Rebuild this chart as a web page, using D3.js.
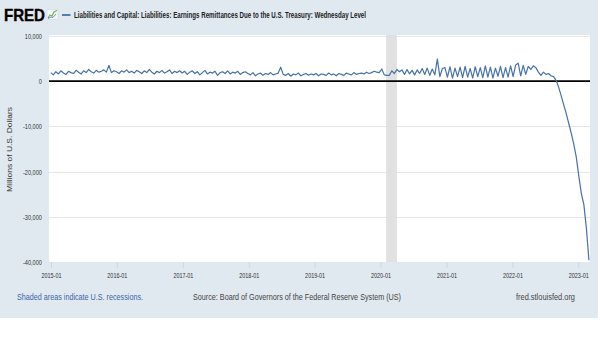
<!DOCTYPE html>
<html><head><meta charset="utf-8">
<script src="https://cdn.jsdelivr.net/npm/d3@7"></script>
<style>html,body{margin:0;padding:0;background:#fff;}svg{display:block;}</style>
</head><body>
<svg id="c" width="600" height="338"></svg>
<script>
// ---- data ----
const seriesTitle = "Liabilities and Capital: Liabilities: Earnings Remittances Due to the U.S. Treasury: Wednesday Level";
const startDate = "2014-12-31";   // first Wednesday observation
const stepDays = 14;              // values sampled every two weeks
const values = [
  // 2015
  1900,1400,2100,1600,2300,1800,1500,2200,1900,1700,2400,2000,1600,2300,1900,2600,2100,1800,2400,2000,2200,2500,2000,3500,1900,2300,
  // 2016
  2100,1700,2300,2000,2500,1900,2200,1800,2400,2100,1700,2300,1900,2600,2000,1600,2200,1900,2400,1800,2100,2500,1700,2200,1900,2300,
  // 2017
  1800,2200,1500,2000,2300,1700,2100,1400,1900,2400,1600,2000,1800,2200,1300,1900,2100,1700,2300,1600,2000,1800,2200,1500,1900,2100,
  // 2018
  1700,1400,1900,1200,1600,1800,1300,1700,1500,1900,1400,1600,1800,3100,1500,1300,1700,1100,1600,1400,1800,1200,1500,1700,1300,1600,
  // 2019
  1400,1700,1200,1600,1500,1300,1800,1400,1600,1200,1700,1500,1300,1800,1600,1400,1900,1500,1700,1800,1600,2000,1700,1900,2200,2000,
  // 2020
  1900,2700,1400,1300,1300,2300,1700,2600,2100,2500,1500,2600,1600,2400,1400,2500,1700,2800,1500,2900,1300,2700,1400,4900,1000,2800,
  // 2021
  3000,900,3200,700,2900,1000,3100,800,3300,900,2800,700,3200,1000,3000,800,3400,900,3100,700,2900,1100,3300,800,3000,900,
  // 2022 - 2023
  3400,1000,3600,4000,1200,3500,1500,3300,2600,3400,3000,2000,1300,2000,1500,1700,1200,1000,
  200,-1300,-3200,-5200,-7100,-9300,-11500,-13900,-16800,-21000,-24800,-27300,-32500,-39600
];
const xTickLabels = ["2015-01","2016-01","2017-01","2018-01","2019-01","2020-01","2021-01","2022-01","2023-01"];
const yTicks = [10000, 0, -10000, -20000, -30000, -40000];
const recession = ["2020-02-01", "2020-04-01"];
const xDomain = ["2014-12-21", "2023-03-07"];
const yDomain = [-40000, 10000];

// ---- setup ----
const parse = d3.utcParse("%Y-%m-%d");
const parseM = d3.utcParse("%Y-%m");
const t0 = parse(startDate);
const data = values.map((v, i) => ({date: d3.utcDay.offset(t0, i * stepDays), value: v}));

const svg = d3.select("#c");
const plot = {left: 49, right: 590, top: 35, bottom: 262};
const FONT = "'Liberation Sans', Arial, Helvetica, sans-serif";

svg.append("rect").attr("x", 0).attr("y", 0).attr("width", 598).attr("height", 318).attr("fill", "#e1e9f0");

const x = d3.scaleUtc().domain(xDomain.map(parse)).range([plot.left, plot.right]);
const y = d3.scaleLinear().domain(yDomain).range([262, 36]);

// condense helper (reference text is horizontally squeezed)
function condense(sel, f) {
  sel.each(function() {
    const n = this.getComputedTextLength();
    d3.select(this).attr("textLength", n * f).attr("lengthAdjust", "spacingAndGlyphs");
  });
}

// plot background
svg.append("rect").attr("x", plot.left).attr("y", plot.top)
  .attr("width", plot.right - plot.left).attr("height", plot.bottom - plot.top).attr("fill", "#fff");

// grid lines
svg.append("g").selectAll("line").data(yTicks.filter(d => d !== 0 && d !== -40000)).join("line")
  .attr("x1", plot.left).attr("x2", plot.right)
  .attr("y1", d => Math.round(y(d)) + 0.5).attr("y2", d => Math.round(y(d)) + 0.5)
  .attr("stroke", "#e6e6e6").attr("stroke-width", 1);

// recession band
svg.append("rect")
  .attr("x", x(parse(recession[0]))).attr("y", plot.top)
  .attr("width", x(parse(recession[1])) - x(parse(recession[0])))
  .attr("height", plot.bottom - plot.top)
  .attr("fill", "#e1e1e1");

// x axis
const xAxis = d3.axisBottom(x).tickValues(xTickLabels.map(parseM)).tickSize(6).tickPadding(4)
  .tickFormat(d3.utcFormat("%Y-%m"));
const gx = svg.append("g").attr("transform", `translate(0,${plot.bottom})`).call(xAxis);
gx.select(".domain").remove();
gx.selectAll(".tick line").attr("stroke", "#ccd6eb");
gx.selectAll("text").attr("font-family", FONT).attr("font-size", 7.8).attr("fill", "#333");
condense(gx.selectAll("text"), 0.7);

// y axis
const yAxis = d3.axisLeft(y).tickValues(yTicks).tickSize(0).tickPadding(7)
  .tickFormat(d => d3.format(",")(d).replace("−", "-"));
const gy = svg.append("g").attr("transform", `translate(${plot.left},0)`).call(yAxis);
gy.select(".domain").remove();
gy.selectAll("text").attr("font-family", FONT).attr("font-size", 7.6).attr("fill", "#333");
condense(gy.selectAll("text"), 0.74);

// zero line
svg.append("line").attr("x1", plot.left).attr("x2", plot.right)
  .attr("y1", y(0)).attr("y2", y(0)).attr("stroke", "#000").attr("stroke-width", 1.8);

// series line
const line = d3.line().x(d => x(d.date)).y(d => y(d.value));
svg.append("path").datum(data).attr("d", line)
  .attr("fill", "none").attr("stroke", "#4572a7").attr("stroke-width", 1.2).attr("stroke-linejoin", "round");

// y axis title
svg.append("text").attr("transform", "translate(12,149.5) rotate(-90)")
  .attr("text-anchor", "middle").attr("font-family", FONT).attr("font-size", 7.8).attr("fill", "#333")
  .text("Millions of U.S. Dollars").attr("textLength", 85).attr("lengthAdjust", "spacingAndGlyphs");

// FRED logo
svg.append("text").attr("x", 4).attr("y", 21).attr("font-family", FONT).attr("font-weight", 900)
  .attr("font-size", 16.5).attr("fill", "#000").attr("stroke", "#000").attr("stroke-width", 0.4).text("FRED")
  .attr("textLength", 41).attr("lengthAdjust", "spacingAndGlyphs");
const icon = svg.append("g");
icon.append("rect").attr("x", 47).attr("y", 9.5).attr("width", 11).attr("height", 10).attr("fill", "#f4f7fa").attr("stroke", "#c9d3dc").attr("stroke-width", 0.5);
icon.append("polyline").attr("points", "48,18 50,15 52,16 54,12 57,10.5").attr("fill", "none").attr("stroke", "#7bb24a").attr("stroke-width", 1.2);
icon.append("polyline").attr("points", "48,18.5 51,17 53,17.5 56,14").attr("fill", "none").attr("stroke", "#4572a7").attr("stroke-width", 0.8);

// legend / title
svg.append("line").attr("x1", 62).attr("x2", 70.5).attr("y1", 15).attr("y2", 15).attr("stroke", "#4572a7").attr("stroke-width", 1.8);
svg.append("text").attr("x", 74).attr("y", 18).attr("font-family", FONT).attr("font-weight", "bold")
  .attr("font-size", 8.8).attr("fill", "#222").text(seriesTitle)
  .attr("textLength", 292).attr("lengthAdjust", "spacingAndGlyphs");

// footer
svg.append("text").attr("x", 17).attr("y", 299.5).attr("font-family", FONT).attr("font-size", 8.8)
  .attr("fill", "#3d64a8").text("Shaded areas indicate U.S. recessions.")
  .attr("textLength", 126).attr("lengthAdjust", "spacingAndGlyphs");
svg.append("text").attr("x", 193).attr("y", 299.5).attr("font-family", FONT).attr("font-size", 8.8)
  .attr("fill", "#444").text("Source: Board of Governors of the Federal Reserve System (US)")
  .attr("textLength", 208).attr("lengthAdjust", "spacingAndGlyphs");
svg.append("text").attr("x", 516).attr("y", 299.5).attr("font-family", FONT).attr("font-size", 8.8)
  .attr("fill", "#444").text("fred.stlouisfed.org")
  .attr("textLength", 59).attr("lengthAdjust", "spacingAndGlyphs");
</script>
</body></html>
